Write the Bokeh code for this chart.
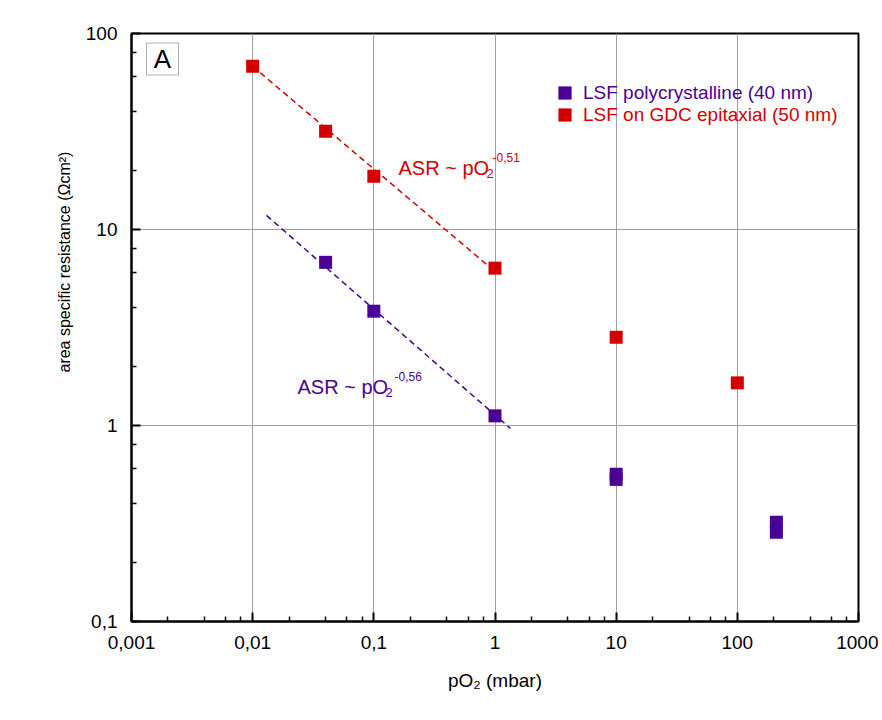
from bokeh.plotting import figure
from bokeh.models import (Legend, LegendItem, Label, BoxAnnotation, Title,
                          CustomJSTickFormatter, FixedTicker, Range1d)
from bokeh.embed import file_html
from bokeh.resources import INLINE

# ---- data ----
poly_p = [0.04, 0.1, 1, 10, 10, 210, 210]
poly_asr = [6.8, 3.83, 1.12, 0.564, 0.531, 0.321, 0.285]
epi_p = [0.01, 0.04, 0.1, 1, 10, 100]
epi_asr = [68, 31.7, 18.7, 6.35, 2.82, 1.65]

fit_poly_p = [0.013, 1.34]
fit_poly_asr = [11.8, 0.966]
fit_epi_p = [0.01, 0.97]
fit_epi_asr = [68, 6.2]

x_ticks = [0.001, 0.01, 0.1, 1, 10, 100, 1000]
x_tick_labels = ["0,001", "0,01", "0,1", "1", "10", "100", "1000"]
y_ticks = [0.1, 1, 10, 100]
y_tick_labels = ["0,1", "1", "10", "100"]

poly_label = "LSF polycrystalline (40 nm)"
epi_label = "LSF on GDC epitaxial (50 nm)"
x_title = "pO\u2082 (mbar)"
y_title = "area specific resistance (\u03a9cm\u00b2)"

PURPLE = "#4b0096"
RED = "#d40000"
FONT = "Liberation Sans"

p = figure(x_axis_type="log", y_axis_type="log",
           x_range=Range1d(0.001, 1000), y_range=Range1d(0.1, 100),
           frame_width=727, frame_height=588,
           min_border_left=131, min_border_right=20,
           min_border_top=33, min_border_bottom=79,
           output_backend="svg", toolbar_location=None,
           background_fill_color="white", border_fill_color="white")

p.outline_line_color = "black"
p.outline_line_width = 2


def minor_of(ticks):
    out = []
    for t in ticks[:-1]:
        for m in (2, 4, 6, 8):
            out.append(t * m)
    return out


p.xaxis.ticker = FixedTicker(ticks=x_ticks, minor_ticks=minor_of(x_ticks))
p.yaxis.ticker = FixedTicker(ticks=y_ticks, minor_ticks=minor_of(y_ticks))

fmt_code = """
let best = 0, d = Infinity;
for (let i = 0; i < tvals.length; i++) {
  const e = Math.abs(Math.log10(tick) - Math.log10(tvals[i]));
  if (e < d) { d = e; best = i; }
}
return tlabels[best];
"""
p.xaxis.formatter = CustomJSTickFormatter(args=dict(tvals=x_ticks, tlabels=x_tick_labels), code=fmt_code)
p.yaxis.formatter = CustomJSTickFormatter(args=dict(tvals=y_ticks, tlabels=y_tick_labels), code=fmt_code)

for ax in (p.xaxis, p.yaxis):
    ax.axis_line_color = "black"
    ax.axis_line_width = 2
    ax.major_tick_in = 9
    ax.major_tick_out = 0
    ax.minor_tick_in = 5
    ax.minor_tick_out = 0
    ax.major_tick_line_width = 2
    ax.minor_tick_line_width = 1.5
    ax.major_tick_line_color = "black"
    ax.minor_tick_line_color = "black"
    ax.major_label_text_font = FONT
    ax.major_label_text_font_size = "19px"
    ax.major_label_text_color = "black"
    ax.axis_label_text_font = FONT
    ax.axis_label_text_font_style = "normal"
    ax.axis_label_text_color = "black"

p.xaxis.major_label_standoff = 14
p.yaxis.major_label_standoff = 14
p.xaxis.axis_label = x_title
p.xaxis.axis_label_text_font_size = "19px"
p.xaxis.axis_label_standoff = 18

# y axis title, shifted upwards like in the reference
p.add_layout(Title(text=y_title, align="left", offset=249, standoff=20,
                   text_font=FONT, text_font_size="16px",
                   text_font_style="normal", text_color="black"), "left")

p.grid.grid_line_color = "#a0a0a0"
p.grid.grid_line_width = 1
p.grid.minor_grid_line_color = None

# fit lines
p.line(fit_epi_p, fit_epi_asr, line_color=RED, line_width=1.5, line_dash="6 4")
p.line(fit_poly_p, fit_poly_asr, line_color=PURPLE, line_width=1.5, line_dash="6 4")

# points
r_poly = p.scatter(poly_p, poly_asr, marker="square", size=13,
                   fill_color=PURPLE, line_color=None)
r_epi = p.scatter(epi_p, epi_asr, marker="square", size=13,
                  fill_color=RED, line_color=None)

# legends (two, to colour each label like its series)
for r, lab_text, col, ybot in ((r_poly, poly_label, PURPLE, 512), (r_epi, epi_label, RED, 490)):
    lg = Legend(items=[LegendItem(label=lab_text, renderers=[r])], location=(417, ybot),
                glyph_width=33, glyph_height=33, label_standoff=2,
                padding=0, margin=0, border_line_color=None,
                background_fill_alpha=0, label_text_color=col,
                label_text_font=FONT, label_text_font_size="19px")
    p.add_layout(lg)


def lab(text, x, y, size, color, **kw):
    kw.setdefault("text_baseline", "alphabetic")
    p.add_layout(Label(text=text, x=x, y=y, x_units="screen", y_units="screen",
                       text_font=FONT, text_font_size=size, text_color=color, **kw))


# annotations
lab("ASR ~ pO", 267, 453.5, "20px", RED)
lab("2", 355, 448, "13px", RED)
lab("-0,51", 361, 464.5, "12px", RED)

lab("ASR ~ pO", 166, 234.5, "20px", PURPLE)
lab("2", 254, 229, "13px", PURPLE)
lab("-0,56", 263, 245.5, "12px", PURPLE)

# panel letter box
p.add_layout(BoxAnnotation(left=15, right=47, bottom=546.5, top=578.5,
                           left_units="screen", right_units="screen",
                           bottom_units="screen", top_units="screen",
                           fill_color="white", fill_alpha=1,
                           line_color="black", line_width=1))
p.add_layout(Label(text="A", x=31, y=562.5, x_units="screen", y_units="screen",
                   text_font=FONT, text_font_size="26px", text_color="black",
                   text_align="center", text_baseline="middle"))

open("out.html", "w").write(file_html(p, INLINE))
